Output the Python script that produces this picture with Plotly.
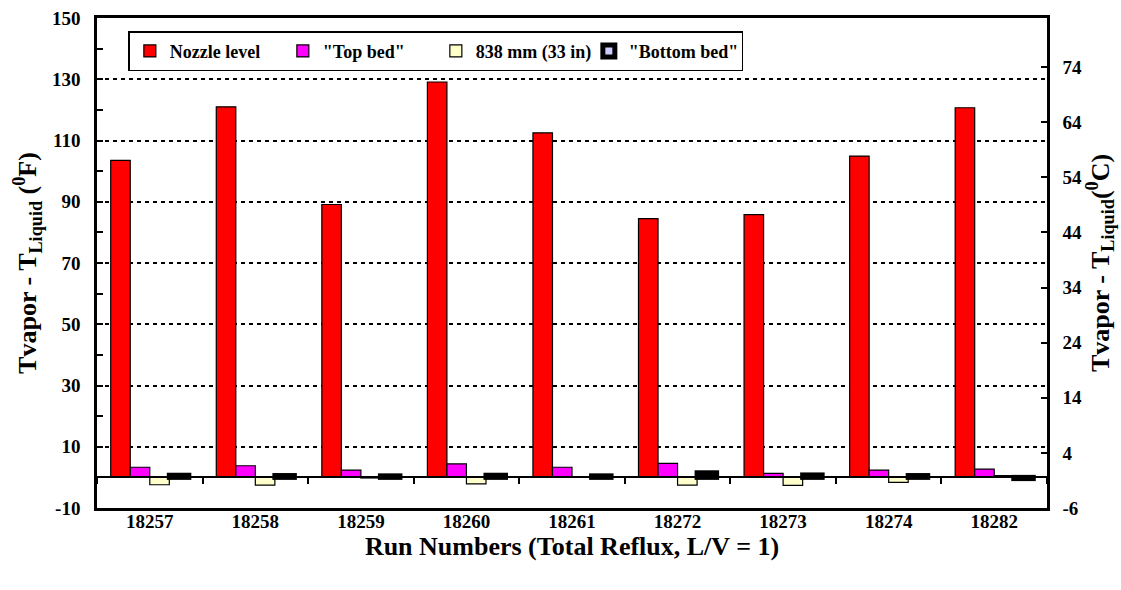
import plotly.graph_objects as go

runs = ["18257", "18258", "18259", "18260", "18261", "18272", "18273", "18274", "18282"]
nozzle = [103.5, 121.0, 89.1, 129.1, 112.5, 84.5, 85.8, 104.9, 120.7]
top_bed = [3.3, 3.8, 2.4, 4.4, 3.3, 4.6, 1.3, 2.4, 2.7]
mm838 = [-2.4, -2.5, -0.2, -2.1, 0.2, -2.5, -2.6, -1.6, 0.6]
bottom_bed = [0.7, 0.6, 0.5, 0.7, 0.5, 1.5, 0.8, 0.6, -0.4]

series_names = ["Nozzle level", '"Top bed"', "838 mm (33 in)", '"Bottom bed"']
series_vals = [nozzle, top_bed, mm838, bottom_bed]
fills = ["#ff0000", "#ff00ff", "#ffffcc", "#ccccff"]
line_w = [1.2, 1.2, 1.2, 5]

f_ticks = [-10, 10, 30, 50, 70, 90, 110, 130, 150]
f_labels = ["-10", "10", "30", "50", "70", "90", "110", "130", "150"]
c_ticks = [-6, 4, 14, 24, 34, 44, 54, 64, 74]
c_labels = ["-6", "4", "14", "24", "34", "44", "54", "64", "74"]

y_min, y_max = -10, 150
c_min = -6
c_max = c_min + (y_max - y_min) / 1.8

FAM = "Liberation Serif"
FONT = dict(family=FAM, size=19, color="black", weight="bold")
TITLE_FONT = dict(family=FAM, size=26, color="black", weight="bold")

fig = go.Figure()
for name, vals, col, lw in zip(series_names, series_vals, fills, line_w):
    fig.add_trace(go.Bar(x=runs, y=vals, name=name,
                         marker=dict(color=col, line=dict(color="black", width=lw))))

fig.add_trace(go.Scatter(x=[runs[0]], y=[None], yaxis="y2", showlegend=False, hoverinfo="skip"))
fig.add_trace(go.Scatter(x=runs, y=[None] * len(runs), xaxis="x2", showlegend=False, hoverinfo="skip"))

zero_pos = (0 - y_min) / (y_max - y_min)

fig.update_layout(
    template="none",
    width=1121, height=590,
    margin=dict(l=97, r=74, t=18, b=82),
    paper_bgcolor="white", plot_bgcolor="white",
    font=FONT,
    barmode="group", bargap=0.26, bargroupgap=0,
    showlegend=True,
    legend=dict(orientation="h", x=0.033, y=0.973, xanchor="left", yanchor="top",
                bgcolor="white", bordercolor="black", borderwidth=1.5,
                font=dict(family=FAM, size=18, color="black", weight="bold"),
                entrywidth=108, entrywidthmode="pixels", traceorder="normal",
                itemwidth=30, tracegroupgap=0),
    xaxis=dict(type="category", categoryorder="array", categoryarray=runs,
               range=[-0.5, len(runs) - 0.5],
               showline=True, linecolor="black", linewidth=2.5, mirror=True,
               ticks="", showgrid=False, tickfont=FONT, ticklabelstandoff=-6,
               title=dict(text="Run Numbers (Total Reflux, L/V = 1)", standoff=4, font=TITLE_FONT)),
    xaxis2=dict(type="category", categoryorder="array", categoryarray=runs,
                range=[-0.5, len(runs) - 0.5], overlaying="x", anchor="free",
                position=zero_pos, side="bottom",
                showline=True, linecolor="black", linewidth=2,
                ticks="outside", tickson="boundaries", ticklen=6, tickwidth=1.5, tickcolor="black",
                showticklabels=False, showgrid=False),
    yaxis=dict(range=[y_min, y_max], tickvals=f_ticks, ticktext=f_labels,
               showline=True, linecolor="black", linewidth=2.5, mirror=True,
               ticks="inside", ticklen=6, tickwidth=1.5, tickcolor="black", tickfont=FONT,
               minor=dict(dtick=10, tick0=0, ticks="inside", ticklen=6, tickwidth=1.5, tickcolor="black", showgrid=False),
               showgrid=True, gridcolor="black", gridwidth=2, griddash="4px,4px",
               zeroline=False, ticklabelstandoff=10,
               title=dict(text="Tvapor - T<sub>Liquid</sub> (<sup>0</sup>F)", standoff=8, font=TITLE_FONT)),
    yaxis2=dict(range=[c_min, c_max], tickvals=c_ticks, ticktext=c_labels, overlaying="y", side="right",
                showline=True, linecolor="black", linewidth=2.5,
                ticks="inside", ticklen=6, tickwidth=1.5, tickcolor="black", tickfont=FONT,
                showgrid=False, zeroline=False, ticklabelstandoff=9,
                title=dict(text="Tvapor - T<sub>Liquid</sub>(<sup>0</sup>C)", standoff=6, font=TITLE_FONT)),
)

fig.write_html("out.html")
